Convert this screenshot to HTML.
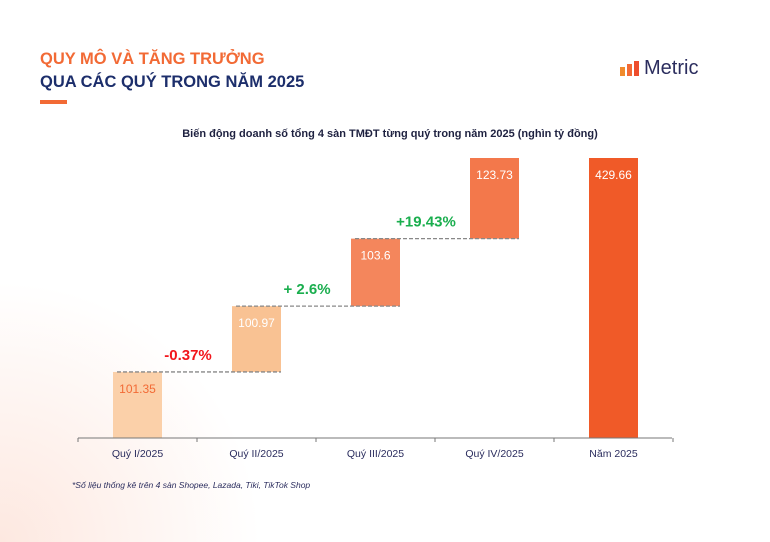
<!DOCTYPE html>
<html><head><meta charset="utf-8"><style>
html,body{margin:0;padding:0;width:770px;height:542px;overflow:hidden;background:#fff;font-family:"Liberation Sans","Noto Sans CJK SC",sans-serif}
#bg{position:absolute;left:0;top:0;width:770px;height:542px;background:radial-gradient(ellipse 260px 260px at 0px 542px,#fde8e0 0%,rgba(255,255,255,0) 100%)}
.t{position:absolute;font-weight:bold;font-size:16.5px;left:40px}
</style></head><body>
<div id="bg"></div>
<div class="t" style="top:50px;color:#f26a35">QUY MÔ VÀ TĂNG TRƯỞNG</div>
<div class="t" style="top:73px;color:#1c2e6b">QUA CÁC QUÝ TRONG NĂM 2025</div>
<div style="position:absolute;left:40px;top:100px;width:27px;height:4px;background:#f26a35"></div>
<div style="position:absolute;left:620px;top:61px;display:flex;align-items:flex-end;gap:2px">
<div style="width:5px;height:9px;background:#f08a2c"></div><div style="width:5px;height:12px;background:#f26a35"></div><div style="width:5px;height:15px;background:#ee4d2d"></div></div>
<div style="position:absolute;left:644px;top:57px;font-size:20px;color:#2b2d5e">Metric</div>
<svg id="chart" width="770" height="542" style="position:absolute;left:0;top:0">
<text x="390" y="137" text-anchor="middle" font-size="11" font-weight="bold" fill="#1e2140">Biến động doanh số tổng 4 sàn TMĐT từng quý trong năm 2025 (nghìn tỷ đồng)</text>
<text x="72" y="488" font-size="8.5" font-style="italic" fill="#2b2d5e">*Số liệu thống kê trên 4 sàn Shopee, Lazada, Tiki, TikTok Shop</text>
</svg>
<script>
const categories=["Quý I/2025","Quý II/2025","Quý III/2025","Quý IV/2025","Năm 2025"];
const values=[101.35,100.97,103.6,123.73,429.66];
const labels=["101.35","100.97","103.6","123.73","429.66"];
const changes=["-0.37%","+ 2.6%","+19.43%"];
const colors=["#fbd0a9","#f9c293","#f4865c","#f3784b","#f05a28"];
const svg=document.getElementById('chart');const NS='http://www.w3.org/2000/svg';
const x0=78,bandW=119,baseY=438,sc=280/429.66,barW=49;
const xs=i=>x0+bandW*i+bandW/2;const y=v=>baseY-v*sc;
function mk(t,a){const e=document.createElementNS(NS,t);for(const k in a)e.setAttribute(k,a[k]);svg.appendChild(e);return e;}
let cum=0;const tops=[];
categories.forEach((c,i)=>{
 const isTotal=i===categories.length-1;const b0=isTotal?0:cum;const b1=isTotal?values[i]:cum+values[i];
 if(!isTotal)cum+=values[i];
 const cx=xs(i);
 const r=mk('rect',{x:cx-barW/2,y:y(b1),width:barW,height:y(b0)-y(b1),fill:colors[i]});
 
 
 const t=mk('text',{x:cx,y:y(b1)+21,'text-anchor':'middle','font-size':12,fill:i===0?'#f26a35':'#fff'});t.textContent=labels[i];
 
 
 tops.push(y(b1));
 const l=mk('text',{x:cx,y:baseY+19,'text-anchor':'middle','font-size':10.5,fill:'#2b2d5e'});l.textContent=c;
 
 
});
for(let i=0;i<3;i++){
 const d=mk('line',{x1:xs(i)-barW/2+4,x2:xs(i+1)+barW/2,y1:tops[i],y2:tops[i],stroke:'#888','stroke-width':1.3,'stroke-dasharray':'4,2'});
 
 
 const p=mk('text',{x:(xs(i)+xs(i+1))/2-9,y:tops[i]-12,'text-anchor':'middle','font-size':15,'font-weight':'bold',fill:changes[i].startsWith('-')?'#f2161c':'#1aae4e'});p.textContent=changes[i];
 
 
}
const ax=mk('line',{x1:x0,x2:x0+bandW*5-1,y1:baseY,y2:baseY,stroke:'#777','stroke-width':1});


for(let i=0;i<=5;i++){const tk=mk('line',{x1:x0+bandW*i,x2:x0+bandW*i,y1:baseY,y2:baseY+4,stroke:'#777'});
 
 }
</script>
</body></html>
